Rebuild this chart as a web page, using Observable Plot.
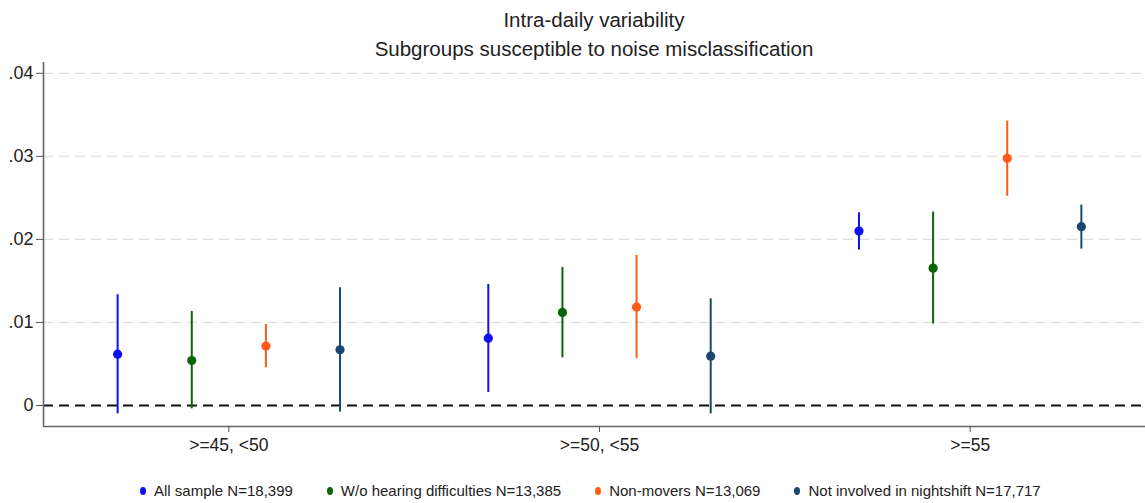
<!DOCTYPE html>
<html>
<head>
<meta charset="utf-8">
<script src="https://cdn.jsdelivr.net/npm/d3@7"></script>
<script src="https://cdn.jsdelivr.net/npm/@observablehq/plot@0.6"></script>
<style>
  html, body { margin: 0; padding: 0; background: #fff; }
  body { width: 1145px; height: 503px; overflow: hidden; font-family: "Liberation Sans", Arial, sans-serif; color: #222; }
  #title { height: 60px; text-align: center; padding-left: 43px; box-sizing: border-box; }
  #title div { font-size: 20.5px; line-height: 29px; }
  #title div:first-child { padding-top: 5px; }
  #chart svg { display: block; }
  #legend { display: flex; justify-content: flex-start; gap: 34px; font-size: 15px; padding-top: 22px; padding-left: 140px; }
  #legend .item { display: flex; align-items: center; white-space: nowrap; }
  #legend .sw { display: inline-block; width: 6px; height: 8px; border-radius: 50%; margin-right: 8px; }
</style>
</head>
<body>
<div id="title"><div>Intra-daily variability</div><div>Subgroups susceptible to noise misclassification</div></div>
<div id="chart"></div>
<div id="legend"></div>
<script>
// ---- data ----
const categories = [">=45, <50", ">=50, <55", ">=55"];
const series = ["All sample N=18,399", "W/o hearing difficulties N=13,385", "Non-movers N=13,069", "Not involved in nightshift N=17,717"];
const colors = ["#1010f0", "#0a640a", "#ff5a1a", "#1a476f"];
// estimates per series, one value per category
const estAll      = [0.00618, 0.00811, 0.02100];
const estHearing  = [0.00542, 0.01120, 0.01654];
const estMovers   = [0.00715, 0.01185, 0.02976];
const estNight    = [0.00671, 0.00594, 0.02153];
const loAll       = [-0.00100, 0.00157, 0.01871];
const loHearing   = [-0.00040, 0.00574, 0.00980];
const loMovers    = [0.00454, 0.00566, 0.02520];
const loNight     = [-0.00080, -0.00100, 0.01883];
const hiAll       = [0.01334, 0.01458, 0.02321];
const hiHearing   = [0.01133, 0.01663, 0.02329];
const hiMovers    = [0.00976, 0.01807, 0.03425];
const hiNight     = [0.01418, 0.01285, 0.02413];
const yTicks = [0, 0.01, 0.02, 0.03, 0.04];
const yTickLabels = ["0", ".01", ".02", ".03", ".04"];

const est = [estAll, estHearing, estMovers, estNight];
const lo = [loAll, loHearing, loMovers, loNight];
const hi = [hiAll, hiHearing, hiMovers, hiNight];

const rows = [];
series.forEach((s, si) => {
  categories.forEach((c, ci) => {
    rows.push({series: s, si, category: c, ci, est: est[si][ci], lo: lo[si][ci], hi: hi[si][ci]});
  });
});
const offsets = [-0.3, -0.1, 0.1, 0.3];
const xPos = d => d.ci + offsets[d.si];
const yMin = -0.00253, yMax = 0.0413;

const plot = Plot.plot({
  width: 1145,
  height: 400,
  marginTop: 2,
  marginBottom: 34,
  marginLeft: 43,
  marginRight: 0,
  style: {fontFamily: "'Liberation Sans', Arial, sans-serif", color: "#222", background: "#fff"},
  x: {domain: [-0.5, 2.5], range: [43, 1155]},
  y: {domain: [yMin, yMax]},
  color: {domain: series, range: colors},
  marks: [
    Plot.gridY(yTicks.filter(t => t !== 0), {stroke: "#dedede", strokeOpacity: 1, strokeWidth: 1.2, strokeDasharray: "10,6"}),
    Plot.ruleY([0], {stroke: "#111", strokeWidth: 1.8, strokeDasharray: "10,6"}),
    Plot.ruleX([-0.5], {y1: yMin, y2: yMax, stroke: "#666", strokeWidth: 1.6}),
    Plot.ruleY([yMin], {stroke: "#666", strokeWidth: 1.6}),
    Plot.axisY({ticks: yTicks, tickFormat: d => yTickLabels[yTicks.indexOf(d)], tickSize: 7, tickPadding: 3, fontSize: 18, stroke: "#555", label: null}),
    Plot.axisX({ticks: [0, 1, 2], tickFormat: d => categories[d], tickSize: 6, tickPadding: 6, fontSize: 17.5, stroke: "#555", label: null}),
    Plot.ruleX(rows, {x: xPos, y1: "lo", y2: "hi", stroke: "series", strokeWidth: 2}),
    Plot.dot(rows, {x: xPos, y: "est", fill: "series", r: 4.6})
  ]
});
document.getElementById("chart").appendChild(plot);

const legend = document.getElementById("legend");
series.forEach((s, i) => {
  const item = document.createElement("span");
  item.className = "item";
  const sw = document.createElement("span");
  sw.className = "sw";
  sw.style.background = colors[i];
  item.appendChild(sw);
  item.appendChild(document.createTextNode(s));
  legend.appendChild(item);
});
</script>
</body>
</html>
